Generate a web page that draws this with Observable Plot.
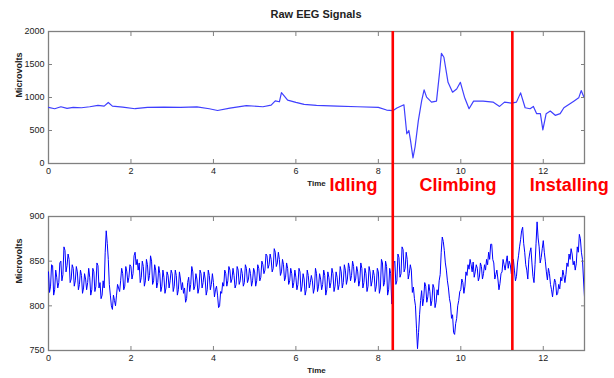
<!DOCTYPE html>
<html><head><meta charset="utf-8">
<script src="https://cdn.jsdelivr.net/npm/d3@7"></script>
<script src="https://cdn.jsdelivr.net/npm/@observablehq/plot@0.6"></script>
<style>
html,body{margin:0;padding:0;background:#fff;}
#chart{position:relative;width:614px;height:378px;overflow:hidden;font-family:"Liberation Sans",Arial,sans-serif;}
#title{position:absolute;left:48px;width:536px;top:8px;text-align:center;font-size:11px;font-weight:bold;color:#222;}
#top,#bottom{position:absolute;left:0;}
#top{top:0;z-index:2}
#bottom{top:205px;z-index:1}
svg{overflow:visible;}
</style></head><body>
<div id="chart"><div id="title">Raw EEG Signals</div><div id="top"></div><div id="bottom"></div></div>
<script>
// Top panel (raw signal, 0–2000 µV)
const topTime = [0, 0.15, 0.3, 0.45, 0.6, 0.8, 1.0, 1.2, 1.35, 1.45, 1.55, 1.8, 2.1, 2.4, 2.8, 3.2, 3.6, 3.9, 4.1, 4.4, 4.8, 5.2, 5.4, 5.5, 5.6, 5.65, 5.8, 6.0, 6.2, 6.5, 7.0, 7.5, 8.0, 8.2, 8.35, 8.45, 8.62, 8.69, 8.74, 8.78, 8.84, 8.89, 8.97, 9.05, 9.11, 9.17, 9.29, 9.41, 9.49, 9.53, 9.59, 9.69, 9.8, 9.9, 9.99, 10.09, 10.2, 10.31, 10.54, 10.78, 10.94, 11.06, 11.23, 11.35, 11.45, 11.56, 11.68, 11.76, 11.84, 11.93, 11.99, 12.07, 12.17, 12.29, 12.41, 12.5, 12.62, 12.74, 12.86, 12.92, 12.98, 13.0];
const topValues = [850, 830, 860, 835, 850, 845, 860, 880, 870, 925, 870, 855, 830, 850, 855, 850, 858, 830, 803, 840, 878, 860, 885, 950, 935, 1075, 960, 925, 895, 880, 870, 860, 850, 810, 800, 840, 890, 450, 500, 350, 85, 250, 650, 950, 1115, 1005, 930, 945, 1410, 1670, 1610, 1230, 1080, 1130, 1230, 1005, 830, 945, 945, 930, 865, 930, 915, 930, 1070, 845, 830, 865, 755, 755, 510, 755, 795, 730, 755, 845, 895, 945, 995, 1105, 1015, 1000];

// Bottom panel (750–900 µV), one sample every 0.025 s from 0 to 13 s (40 per row = 1 s)
const bottomStart = 0;
const bottomStep = 0.025;
const bottomValues = [
  838, 815, 822, 846, 845, 812, 818, 840, 832, 820, 826, 848, 850, 828, 835, 866, 862, 838, 845, 858, 852, 826, 830, 846, 842, 822, 828, 844, 838, 818, 824, 840, 834, 814, 820, 836, 830, 818, 826, 842,
  832, 812, 818, 842, 838, 816, 822, 848, 845, 820, 826, 808, 812, 828, 820, 860, 884, 870, 852, 824, 812, 800, 796, 812, 806, 800, 812, 824, 820, 816, 828, 842, 836, 818, 822, 844, 838, 826, 832, 846,
  844, 830, 836, 856, 860, 846, 852, 840, 848, 826, 832, 850, 844, 822, 828, 852, 846, 828, 834, 856, 850, 824, 828, 846, 840, 820, 826, 844, 836, 816, 822, 840, 832, 814, 820, 838, 834, 820, 828, 840,
  836, 816, 822, 840, 834, 812, 818, 838, 830, 818, 826, 814, 820, 804, 808, 826, 832, 816, 824, 844, 838, 818, 822, 836, 830, 814, 820, 840, 836, 820, 826, 838, 830, 812, 818, 840, 834, 818, 824, 836,
  826, 810, 818, 822, 812, 798, 800, 816, 814, 826, 822, 840, 836, 822, 828, 844, 840, 826, 830, 842, 834, 820, 824, 844, 840, 824, 828, 842, 836, 822, 826, 846, 842, 826, 830, 842, 836, 822, 828, 842,
  838, 822, 828, 846, 842, 828, 832, 850, 846, 836, 840, 858, 856, 842, 846, 858, 852, 838, 842, 864, 860, 844, 848, 860, 852, 834, 838, 852, 846, 828, 832, 848, 842, 824, 828, 842, 836, 820, 826, 840,
  832, 818, 824, 842, 838, 816, 822, 836, 830, 812, 818, 840, 834, 820, 826, 834, 828, 814, 820, 842, 836, 816, 822, 836, 830, 818, 824, 840, 834, 812, 818, 838, 832, 820, 826, 842, 836, 816, 822, 838,
  832, 818, 824, 844, 838, 820, 826, 846, 840, 824, 830, 848, 842, 828, 834, 850, 844, 826, 830, 844, 838, 822, 828, 848, 842, 820, 826, 842, 836, 816, 822, 844, 838, 822, 828, 840, 834, 816, 822, 842,
  838, 814, 820, 852, 848, 822, 826, 850, 844, 812, 818, 842, 836, 802, 812, 848, 850, 824, 828, 858, 854, 832, 836, 866, 863, 838, 842, 860, 852, 830, 836, 846, 840, 815, 821, 808, 800, 775, 752, 770,
  790, 806, 817, 800, 808, 826, 822, 804, 810, 824, 816, 800, 806, 824, 820, 798, 804, 818, 812, 828, 835, 860, 877, 872, 862, 848, 840, 828, 820, 808, 802, 786, 790, 770, 768, 780, 786, 800, 806, 816,
  818, 830, 826, 814, 822, 838, 834, 846, 841, 852, 846, 838, 849, 832, 838, 846, 842, 828, 832, 848, 844, 830, 836, 846, 840, 852, 846, 860, 852, 869, 869, 852, 848, 830, 835, 840, 830, 818, 825, 836,
  838, 852, 846, 840, 849, 856, 842, 850, 846, 836, 844, 852, 840, 828, 833, 848, 856, 866, 874, 884, 888, 870, 860, 846, 840, 830, 852, 860, 865, 848, 833, 826, 846, 870, 894, 876, 866, 848, 854, 864,
  873, 860, 850, 838, 829, 842, 836, 824, 818, 810, 821, 830, 826, 812, 814, 824, 819, 832, 828, 840, 834, 826, 835, 848, 844, 858, 852, 864, 858, 846, 850, 840, 847, 866, 860, 880, 875, 860, 852, 830,
  810
];

const phaseBoundaries = [8.35, 11.25];
const phaseLabels = ["Idling", "Climbing", "Installing"];
const phaseLabelX = [7.4, 9.93, 12.63];
const xTicks = [0, 2, 4, 6, 8, 10, 12];
const topYTicks = [0, 500, 1000, 1500, 2000];
const bottomYTicks = [750, 800, 850, 900];

const fontFamily = '"Liberation Sans", Arial, sans-serif';
const topData = topTime.map((t, i) => ({t, v: topValues[i]}));
const bottomData = bottomValues.map((v, i) => ({t: bottomStart + i * bottomStep, v}));
const gray = "#808080";
const tk = 4;

function panel({data, yDomain, yTicks, height, marginTop, marginBottom, line, extra}) {
  return Plot.plot({
    width: 614, height, marginLeft: 48, marginRight: 30, marginTop, marginBottom,
    style: {fontFamily, fontSize: "9px", color: "#222", background: "transparent", overflow: "visible"},
    x: {domain: [0, 13]},
    y: {domain: yDomain},
    marks: [
      Plot.frame({stroke: gray, strokeWidth: 1.3}),
      Plot.lineY(data, {x: "t", y: "v", clip: true, ...line}),
      // tick labels
      Plot.axisX(xTicks, {anchor: "bottom", tickSize: 0, tickPadding: 4, label: null, tickFormat: d => String(d)}),
      Plot.axisY(yTicks, {anchor: "left", tickSize: 0, tickPadding: 4, label: null, tickFormat: d => String(d)}),
      // inward tick marks on all four sides
      Plot.axisX(xTicks, {anchor: "bottom", tickSize: tk, dy: -tk, text: null, label: null, stroke: gray}),
      Plot.axisX(xTicks, {anchor: "top", tickSize: tk, dy: tk, text: null, label: null, stroke: gray}),
      Plot.axisY(yTicks, {anchor: "left", tickSize: tk, dx: tk, text: null, label: null, stroke: gray}),
      Plot.axisY(yTicks, {anchor: "right", tickSize: tk, dx: -tk, text: null, label: null, stroke: gray}),
      Plot.text(["Time"], {text: d => d, frameAnchor: "bottom", dy: 22, fontSize: 8, fontWeight: "bold"}),
      Plot.text(["Microvolts"], {text: d => d, frameAnchor: "left", dx: -29, rotate: -90, fontSize: 9, fontWeight: "bold"}),
      ...extra
    ]
  });
}

const topPlot = panel({
  data: topData, yDomain: [0, 2000], yTicks: topYTicks,
  height: 205, marginTop: 31, marginBottom: 42,
  line: {stroke: "#3f3fff", strokeWidth: 1.2},
  extra: [
    Plot.ruleX(phaseBoundaries, {stroke: "#ff0000", strokeWidth: 2.6, insetBottom: -42}),
    Plot.text(phaseLabels, {x: (d, i) => phaseLabelX[i], text: d => d, frameAnchor: "bottom", dy: 27, fontSize: 18, fontWeight: "bold", fill: "#ff0000"})
  ]
});

const bottomPlot = panel({
  data: bottomData, yDomain: [750, 900], yTicks: bottomYTicks,
  height: 173, marginTop: 11, marginBottom: 28,
  line: {stroke: "#0000ff", strokeWidth: 1},
  extra: [
    Plot.ruleX(phaseBoundaries, {stroke: "#ff0000", strokeWidth: 2.6, insetTop: -11})
  ]
});

document.getElementById("top").appendChild(topPlot);
document.getElementById("bottom").appendChild(bottomPlot);
</script>
</body></html>
